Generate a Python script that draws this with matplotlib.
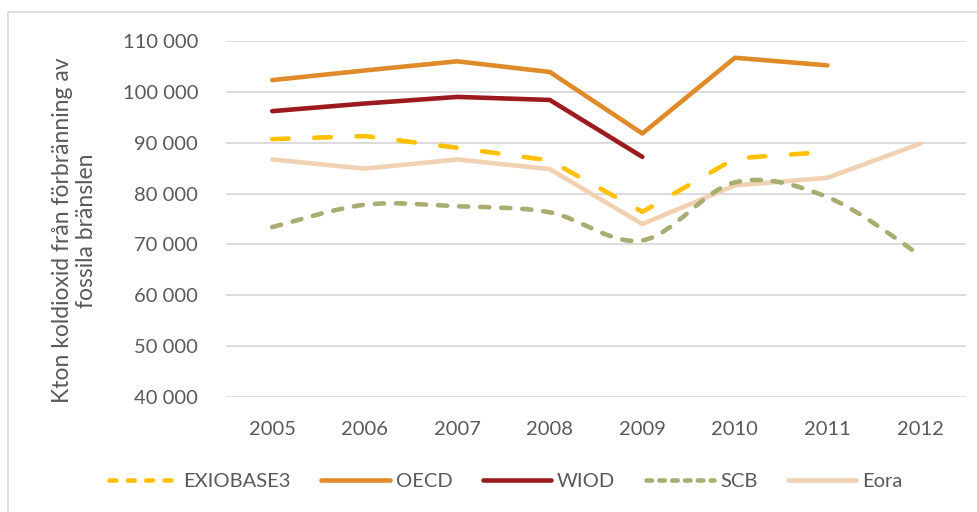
import numpy as np
import matplotlib.pyplot as plt
from matplotlib.path import Path
from matplotlib.patches import PathPatch, Rectangle
from matplotlib.lines import Line2D
from matplotlib.ticker import FuncFormatter

plt.rcParams['font.family'] = ['Lato', 'DejaVu Sans']

# data (kton CO2)
years = [2005, 2006, 2007, 2008, 2009, 2010, 2011, 2012]
exiobase3 = [90700, 91300, 89000, 86500, 76400, 86900, 88200]
oecd = [102300, 104200, 106000, 103900, 91800, 106700, 105200]
wiod = [96200, 97700, 99000, 98400, 87200]
scb = [73400, 77800, 77500, 76300, 70800, 82200, 79300, 67900]
eora = [86700, 84900, 86700, 84800, 74000, 81600, 83100, 89800]

c_exio = '#FFC000'
c_oecd = '#E08B2A'
c_wiod = '#9B1B1F'
c_scb = '#A9AD72'
c_eora = '#F0D2B3'
grey = '#595959'

fig = plt.figure(figsize=(9.78, 5.12), dpi=100)
ax = fig.add_axes([0.231, 0.2246, 0.757, 0.6954])

# outer frame like the Excel chart area
fig.patches.append(Rectangle((8 / 978, -0.05), 1.0, 0.05 + (512 - 12) / 512,
                             transform=fig.transFigure, fill=False,
                             edgecolor='#D9D9D9', lw=1.2))

x = np.arange(len(years))
lw = 3.3

ax.plot(x[:len(oecd)], oecd, color=c_oecd, lw=lw, solid_capstyle='round',
        solid_joinstyle='round', zorder=3)
ax.plot(x[:len(wiod)], wiod, color=c_wiod, lw=lw, solid_capstyle='round',
        solid_joinstyle='round', zorder=3)
ax.plot(x[:len(eora)], eora, color=c_eora, lw=lw, solid_capstyle='round',
        solid_joinstyle='round', zorder=2)
ax.plot(x[:len(exiobase3)], exiobase3, color=c_exio, lw=lw, dashes=(3.6, 5.6),
        dash_capstyle='round', zorder=4)

# SCB is drawn as a smoothed line (Excel style), bezier through the points
px = x[:len(scb)].astype(float)
py = np.array(scb, dtype=float)
verts = [(px[0], py[0])]
codes = [Path.MOVETO]
n = len(px)
for i in range(n - 1):
    i0 = max(i - 1, 0)
    i3 = min(i + 2, n - 1)
    c1 = (px[i] + (px[i + 1] - px[i0]) / 6, py[i] + (py[i + 1] - py[i0]) / 6)
    c2 = (px[i + 1] - (px[i3] - px[i]) / 6, py[i + 1] - (py[i3] - py[i]) / 6)
    verts += [c1, c2, (px[i + 1], py[i + 1])]
    codes += [Path.CURVE4] * 3
ax.add_patch(PathPatch(Path(verts, codes), fill=False, edgecolor=c_scb, lw=lw,
                       linestyle=(0, (2.0, 2.6)), capstyle='round', zorder=2))

ax.set_xlim(-0.5, len(years) - 0.5)
ax.set_ylim(40000, 110000)
ax.set_yticks(np.arange(40000, 110001, 10000))
ax.yaxis.set_major_formatter(FuncFormatter(lambda v, p: f'{int(v):,}'.replace(',', ' ')))
ax.set_xticks(x)
ax.set_xticklabels([str(y) for y in years])
ax.grid(axis='y', color='#D9D9D9', lw=1.3, zorder=0)
ax.set_axisbelow(True)
for s in ax.spines.values():
    s.set_visible(False)
ax.tick_params(length=0, labelsize=14.5, labelcolor=grey)
ax.tick_params(axis='y', pad=20)
ax.tick_params(axis='x', pad=17)

fig.text(0.076, 0.55, 'Kton koldioxid från förbränning av\nfossila bränslen',
         rotation=90, ha='center', va='center', fontsize=16.5, color=grey,
         linespacing=1.15)

handles = [
    Line2D([], [], color=c_exio, lw=lw, dashes=(1.5, 2.5), dash_capstyle='round'),
    Line2D([], [], color=c_oecd, lw=lw, solid_capstyle='round'),
    Line2D([], [], color=c_wiod, lw=lw, solid_capstyle='round'),
    Line2D([], [], color=c_scb, lw=lw, dashes=(1.2, 1.6), dash_capstyle='round'),
    Line2D([], [], color=c_eora, lw=lw, solid_capstyle='round'),
]
labels = ['EXIOBASE3', 'OECD', 'WIOD', 'SCB', 'Eora']
leg = fig.legend(handles, labels, loc='center', bbox_to_anchor=(0.517, 0.059),
                 ncol=5, frameon=False, fontsize=14.5, handlelength=3.4,
                 handletextpad=0.3, columnspacing=1.5)
for t in leg.get_texts():
    t.set_color(grey)

fig.savefig('out.png', dpi=100)
